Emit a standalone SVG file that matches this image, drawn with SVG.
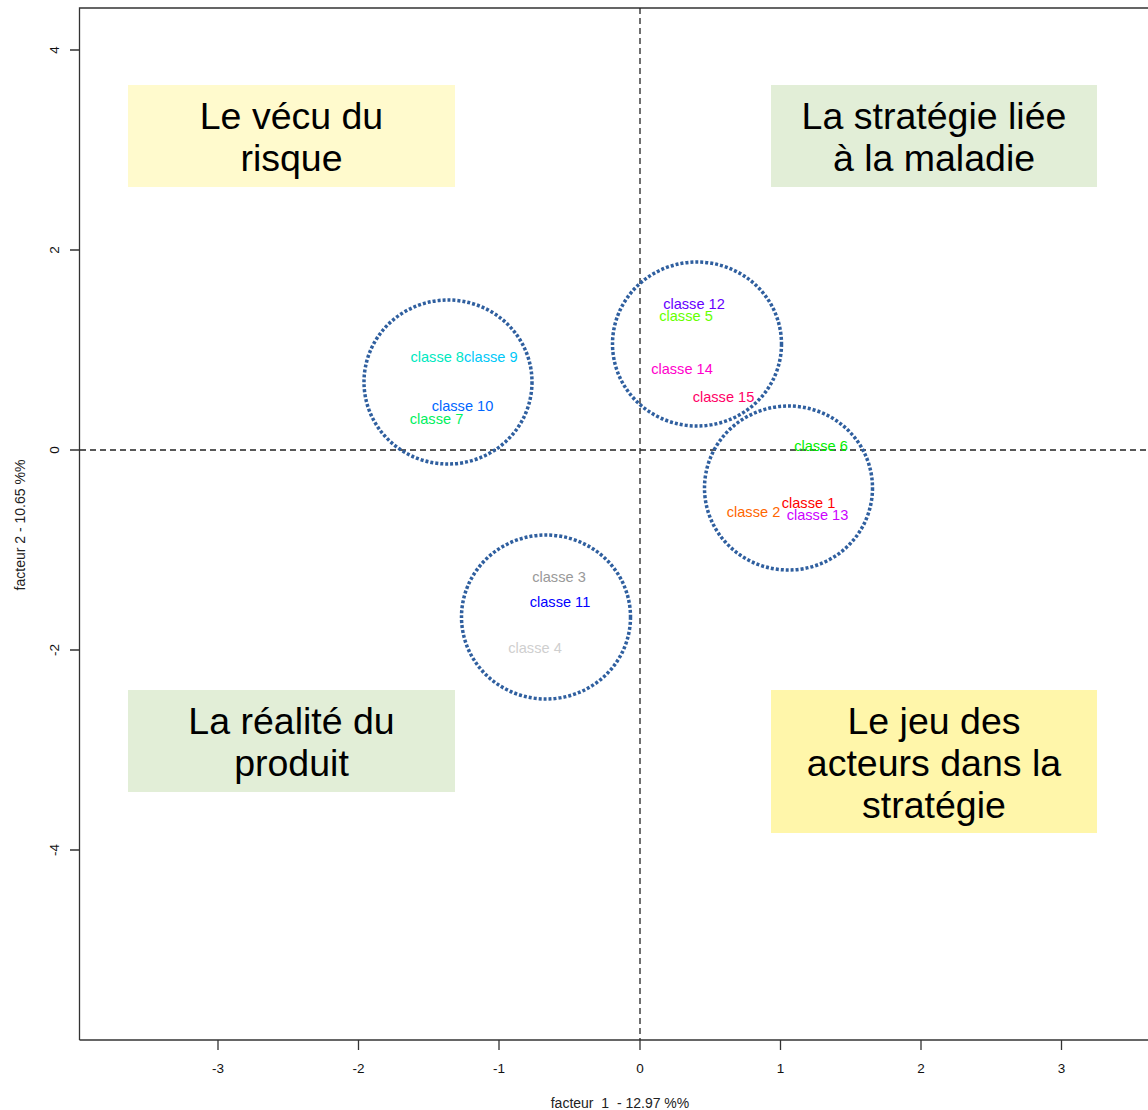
<svg xmlns="http://www.w3.org/2000/svg" width="1148" height="1110" viewBox="0 0 1148 1110">
<style>
text{font-family:"Liberation Sans",Arial,sans-serif}
.axis{stroke:#333;stroke-width:1.3;fill:none}
.dash{stroke:#222;stroke-width:1.3;stroke-dasharray:6 4;fill:none}
.tick{font-size:13.5px;fill:#111;text-anchor:middle}
.alab{font-size:14px;fill:#222;text-anchor:middle}
.circ{fill:none;stroke:#2f5f9f;stroke-width:3.5;stroke-dasharray:3 2}
.cl{font-size:14.6px;text-anchor:middle}
.big{font-size:37.5px;fill:#000;text-anchor:middle}
.yel{fill:#fffacd}
.yel2{fill:#fff6aa}
.grn{fill:#e2eed7}
</style>
<rect width="1148" height="1110" fill="#fff"/>
<g id="axes">
<path class="axis" d="M79.5 1040 V8 H1148"/>
<path class="axis" d="M79.5 1040 H1148"/>
<path class="axis" d="M70 50H79.5M70 250H79.5M70 450H79.5M70 650H79.5M70 850H79.5"/>
<path class="axis" d="M218 1040V1050M358.5 1040V1050M499 1040V1050M640 1040V1050M780.5 1040V1050M921 1040V1050M1061.5 1040V1050"/>
<text class="tick" x="218" y="1073">-3</text>
<text class="tick" x="358.5" y="1073">-2</text>
<text class="tick" x="499" y="1073">-1</text>
<text class="tick" x="640" y="1073">0</text>
<text class="tick" x="780.5" y="1073">1</text>
<text class="tick" x="921" y="1073">2</text>
<text class="tick" x="1061.5" y="1073">3</text>
<text class="tick" transform="translate(59 50) rotate(-90)">4</text>
<text class="tick" transform="translate(59 250) rotate(-90)">2</text>
<text class="tick" transform="translate(59 450) rotate(-90)">0</text>
<text class="tick" transform="translate(59 650) rotate(-90)">-2</text>
<text class="tick" transform="translate(59 850) rotate(-90)">-4</text>
<text class="alab" x="620" y="1108" xml:space="preserve">facteur  1  - 12.97 %%</text>
<text class="alab" transform="translate(25 525) rotate(-90)" xml:space="preserve">facteur 2 - 10.65 %%</text>
</g>
<g id="connectors">
<line class="dash" x1="640" y1="8" x2="640" y2="1040"/>
<line class="dash" x1="80" y1="450" x2="1148" y2="450"/>
</g>
<g id="box-vecu">
<rect class="yel" x="128" y="85" width="327" height="102"/>
<text class="big" x="291.5" y="129">Le vécu du</text>
<text class="big" x="291.5" y="171">risque</text>
</g>
<g id="box-strategie">
<rect class="grn" x="771" y="85" width="326" height="102"/>
<text class="big" x="934" y="129">La stratégie liée</text>
<text class="big" x="934" y="171">à la maladie</text>
</g>
<g id="box-realite">
<rect class="grn" x="128" y="690" width="327" height="102"/>
<text class="big" x="291.5" y="734">La réalité du</text>
<text class="big" x="291.5" y="776">produit</text>
</g>
<g id="box-jeu">
<rect class="yel2" x="771" y="690" width="326" height="143"/>
<text class="big" x="934" y="734">Le jeu des</text>
<text class="big" x="934" y="776">acteurs dans la</text>
<text class="big" x="934" y="818">stratégie</text>
</g>
<g id="cluster-left">
<ellipse class="circ" cx="448" cy="382" rx="84" ry="82"/>
<text class="cl" x="464" y="362"><tspan fill="#00e8c0">classe 8</tspan><tspan fill="#00c8f8">classe 9</tspan></text>
<text class="cl" x="462.5" y="411" fill="#0066ff">classe 10</text>
<text class="cl" x="436.5" y="424" fill="#00f060">classe 7</text>
</g>
<g id="cluster-top">
<ellipse class="circ" cx="697" cy="344" rx="84.5" ry="82"/>
<text class="cl" x="694" y="309" fill="#6600ff">classe 12</text>
<text class="cl" x="686" y="321" fill="#66ff00">classe 5</text>
<text class="cl" x="682" y="374" fill="#ff00cc">classe 14</text>
<text class="cl" x="723.5" y="402" fill="#ff0066">classe 15</text>
</g>
<g id="cluster-right">
<ellipse class="circ" cx="788.5" cy="488" rx="84" ry="82"/>
<text class="cl" x="821" y="451" fill="#00ee00">classe 6</text>
<text class="cl" x="808.5" y="508" fill="#ff0000">classe 1</text>
<text class="cl" x="753.5" y="517" fill="#ff6600">classe 2</text>
<text class="cl" x="817.5" y="520" fill="#cc00ff">classe 13</text>
</g>
<g id="cluster-bottom">
<ellipse class="circ" cx="546" cy="617" rx="84.5" ry="82"/>
<text class="cl" x="559" y="582" fill="#999999">classe 3</text>
<text class="cl" x="560" y="607" fill="#0000ff">classe 11</text>
<text class="cl" x="535" y="653" fill="#cfcfcf">classe 4</text>
</g>
</svg>
